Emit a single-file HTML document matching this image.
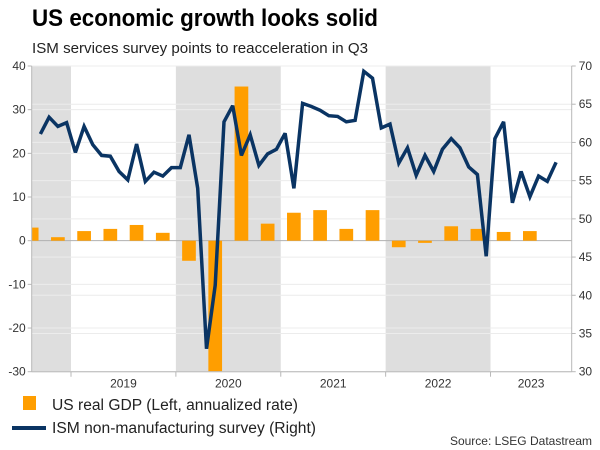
<!DOCTYPE html>
<html><head><meta charset="utf-8"><style>
html,body{margin:0;padding:0;background:#fff;}
svg{display:block;font-family:"Liberation Sans",Arial,sans-serif;}
</style></head><body>
<svg id="chart" width="600" height="450" viewBox="0 0 600 450">
<text x="32" y="26" font-size="24" font-weight="bold" fill="#000" textLength="346" lengthAdjust="spacingAndGlyphs">US economic growth looks solid</text>
<text x="32" y="53" font-size="15" fill="#222" textLength="336" lengthAdjust="spacingAndGlyphs">ISM services survey points to reacceleration in Q3</text>
<g id="bands"></g>
<g id="grid"></g>
<g id="bars"></g>
<g id="line"></g>
<g id="axes"></g>
<g>
<rect x="23" y="396" width="13" height="14" fill="#ff9e00"/>
<text x="52" y="410" font-size="15.5" fill="#222" textLength="246" lengthAdjust="spacingAndGlyphs">US real GDP (Left, annualized rate)</text>
<line x1="12" y1="428" x2="46" y2="428" stroke="#0a3463" stroke-width="4"/>
<text x="52" y="433" font-size="15.5" fill="#222" textLength="264" lengthAdjust="spacingAndGlyphs">ISM non-manufacturing survey (Right)</text>
</g>
<text x="592" y="445" font-size="12" fill="#333" text-anchor="end">Source: LSEG Datastream</text>
</svg>
<script>
const years = ["2019","2020","2021","2022","2023"];
const leftTicks = [40,30,20,10,0,-10,-20,-30];
const rightTicks = [70,65,60,55,50,45,40,35,30];
// Quarterly GDP Q3 2018 .. Q2 2023
const gdpValues = [3.0,0.8,2.2,2.7,3.6,1.8,-4.6,-29.9,35.3,3.9,6.4,7.0,2.7,7.0,-1.5,-0.5,3.3,2.7,2.0,2.2];
// Monthly ISM services Sep 2018 .. Aug 2023
const ismValues = [61.1,63.3,62.1,62.6,58.7,62.1,59.7,58.3,58.2,56.2,55.1,59.8,54.9,56.1,55.6,56.7,56.7,61.0,54.0,33.0,41.3,62.7,64.8,58.3,61.0,57.0,58.5,59.1,61.2,54.0,
65.1,64.7,64.2,63.5,63.4,62.7,62.9,69.3,68.4,61.9,62.4,57.3,59.3,55.7,58.3,56.2,59.1,60.5,59.3,56.8,55.8,45.1,60.5,62.7,52.1,56.2,52.9,55.6,54.9,57.4];

const NS="http://www.w3.org/2000/svg";
const L=31.7,R=571.7,T=66,B=371.7;
const pxMonth=8.74, x2019=71;
const xM=m=>x2019+m*pxMonth;
const yL=v=>T+(40-v)*(B-T)/70;
const yR=v=>T+(70-v)*(B-T)/40;
function mk(tag,attrs,parent){const e=document.createElementNS(NS,tag);for(const k in attrs)e.setAttribute(k,attrs[k]);parent.appendChild(e);return e;}
const svg=document.getElementById('chart');
const defs=mk('defs',{},svg);
const cp=mk('clipPath',{id:'plotclip'},defs);
mk('rect',{x:L,y:T,width:R-L,height:B-T},cp);

const bands=document.getElementById('bands');
[-12,12,36].forEach(m=>{
  const x0=Math.max(L,xM(m)),x1=Math.min(R,xM(m+12));
  const r=mk('rect',{x:x0,y:T,width:x1-x0,height:B-T,fill:'#dedede'},bands);
  
  
});
const grid=document.getElementById('grid');
leftTicks.forEach(v=>{
  const l=mk('line',{x1:L,x2:R,y1:yL(v),y2:yL(v),stroke:v===0?'#b0b0b0':'#ececec','stroke-width':1},grid);
  
  
});
rightTicks.forEach(v=>{
  const l=mk('line',{x1:L,x2:R,y1:yR(v),y2:yR(v),stroke:'#ececec','stroke-width':1},grid);
  
  
});
const bars=document.getElementById('bars');
bars.setAttribute('clip-path','url(#plotclip)');
gdpValues.forEach((v,i)=>{
  const c=xM(-4.5+i*3);
  const y0=yL(0),y1=yL(v);
  const r=mk('rect',{x:c-6.85,y:Math.min(y0,y1),width:13.7,height:Math.abs(y1-y0),fill:'#ff9e00'},bars);
  
  
});
const lg=document.getElementById('line');
const pts=ismValues.map((v,i)=>xM(-3.5+i).toFixed(1)+','+yR(v).toFixed(1)).join(' ');
const pl=mk('polyline',{points:pts,fill:'none',stroke:'#0a3463','stroke-width':3.5,'stroke-linejoin':'miter','stroke-miterlimit':3},lg);


const ax=document.getElementById('axes');
mk('line',{x1:L,x2:L,y1:T,y2:B,stroke:'#b8b8b8'},ax);
mk('line',{x1:R,x2:R,y1:T,y2:B,stroke:'#b8b8b8'},ax);
mk('line',{x1:L,x2:R,y1:B,y2:B,stroke:'#b8b8b8'},ax);
leftTicks.forEach(v=>{
  mk('line',{x1:L-4,x2:L,y1:yL(v),y2:yL(v),stroke:'#b8b8b8'},ax);
  const t=mk('text',{x:L-6,y:yL(v)+4,'font-size':12,'text-anchor':'end',fill:'#333'},ax);
  t.textContent=v;
  
  
});
rightTicks.forEach(v=>{
  mk('line',{x1:R,x2:R+4,y1:yR(v),y2:yR(v),stroke:'#b8b8b8'},ax);
  const t=mk('text',{x:R+7,y:yR(v)+4,'font-size':12,'text-anchor':'start',fill:'#333'},ax);
  t.textContent=v;
  
  
});
years.forEach((y,i)=>{
  mk('line',{x1:xM(i*12),x2:xM(i*12),y1:B,y2:B+5,stroke:'#b8b8b8'},ax);
  const cx=Math.min(xM(i*12+6),(xM(i*12)+R)/2);
  const t=mk('text',{x:cx,y:B+16,'font-size':12,'text-anchor':'middle',fill:'#333'},ax);
  t.textContent=y;
  
  
});
</script>
</body></html>
